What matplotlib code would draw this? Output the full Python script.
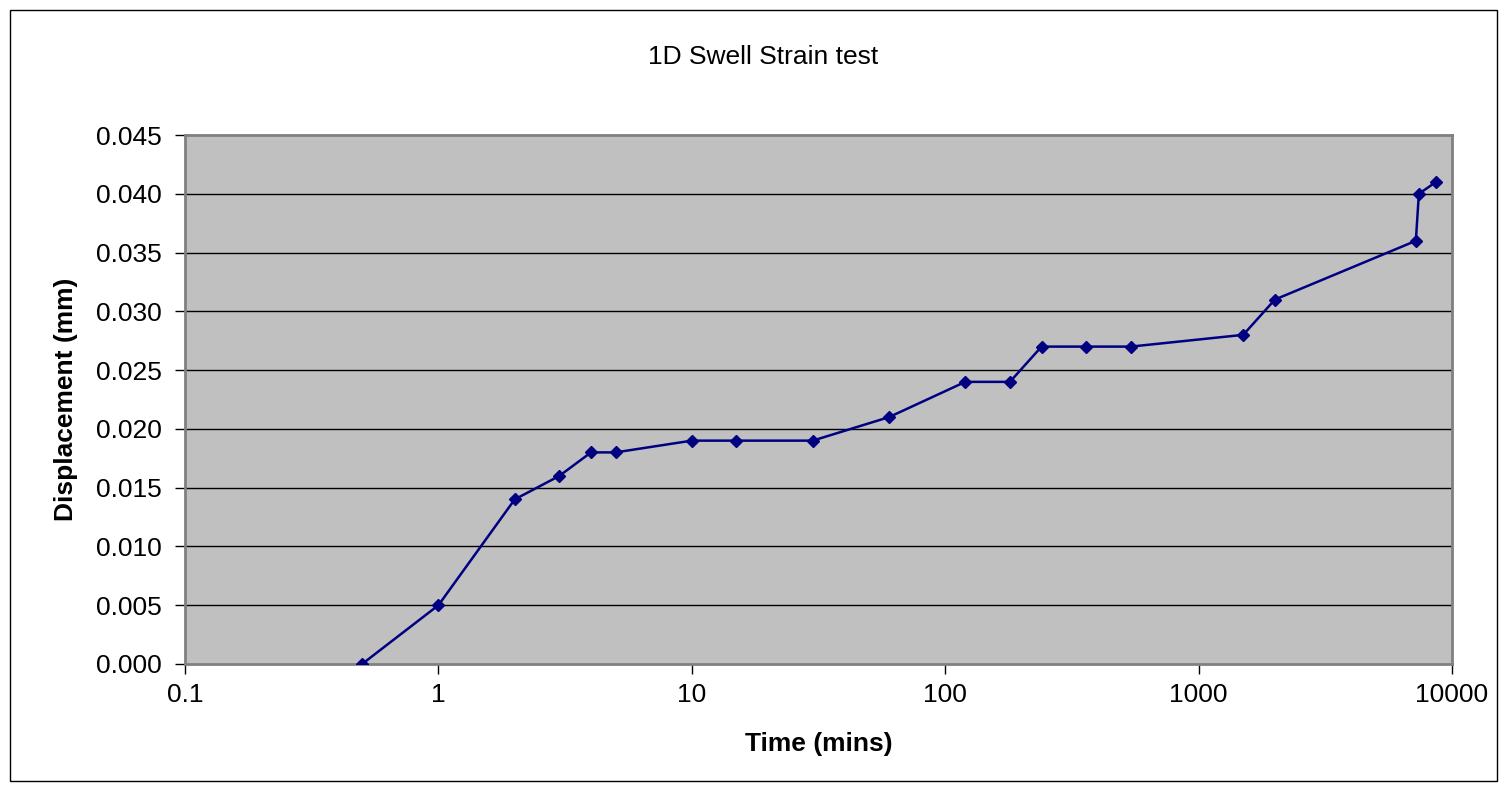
import matplotlib.pyplot as plt
from matplotlib.ticker import FixedLocator, FixedFormatter, NullLocator

plt.rcParams['font.family'] = ['Liberation Sans', 'DejaVu Sans']

# Time (mins) and displacement (mm)
time_mins = [0.5, 1, 2, 3, 4, 5, 10, 15, 30, 60, 120, 180, 240, 360, 540,
             1500, 2000, 7200, 7400, 8640]
displacement = [0.000, 0.005, 0.014, 0.016, 0.018, 0.018, 0.019, 0.019, 0.019,
                0.021, 0.024, 0.024, 0.027, 0.027, 0.027, 0.028, 0.031,
                0.036, 0.040, 0.041]

x_ticks = [0.1, 1, 10, 100, 1000, 10000]
x_tick_labels = ['0.1', '1', '10', '100', '1000', '10000']
y_ticks = [0.000, 0.005, 0.010, 0.015, 0.020, 0.025, 0.030, 0.035, 0.040, 0.045]

fig = plt.figure(figsize=(15.07, 7.91), dpi=100)
# thin black frame around the whole chart
fig.patches.append(plt.Rectangle((10 / 1507, 10 / 791), 1487 / 1507, 771 / 791,
                                 transform=fig.transFigure, fill=False,
                                 edgecolor='black', linewidth=1))

ax = fig.add_axes([0.1228, 0.1606, 0.8407, 0.6687])
ax.set_facecolor('#c0c0c0')
ax.set_xscale('log')
ax.set_xlim(0.1, 10000)
ax.set_ylim(0, 0.045)

for y in y_ticks[1:-1]:
    ax.axhline(y, color='black', linewidth=1, zorder=1)

ax.plot(time_mins, displacement, color='#000080', linewidth=1.8,
        marker='D', markersize=6.5, zorder=3)

ax.xaxis.set_major_locator(FixedLocator(x_ticks))
ax.xaxis.set_major_formatter(FixedFormatter(x_tick_labels))
ax.xaxis.set_minor_locator(NullLocator())
ax.set_yticks(y_ticks)
ax.set_yticklabels([f'{v:.3f}' for v in y_ticks])

ax.tick_params(axis='both', labelsize=19, direction='out', length=7,
               width=1, color='black', pad=10)
ax.tick_params(axis='x', pad=7)

for side in ['left', 'right', 'top', 'bottom']:
    ax.spines[side].set_color('#808080')
    ax.spines[side].set_linewidth(2)

ax.set_xlabel('Time (mins)', fontsize=19, fontweight='bold', labelpad=18)
ax.set_ylabel('Displacement (mm)', fontsize=19, fontweight='bold', labelpad=13)
fig.text(0.5063, 1 - 57 / 791, '1D Swell Strain test', fontsize=19,
         ha='center', va='center')

fig.savefig('out.png', dpi=100)
